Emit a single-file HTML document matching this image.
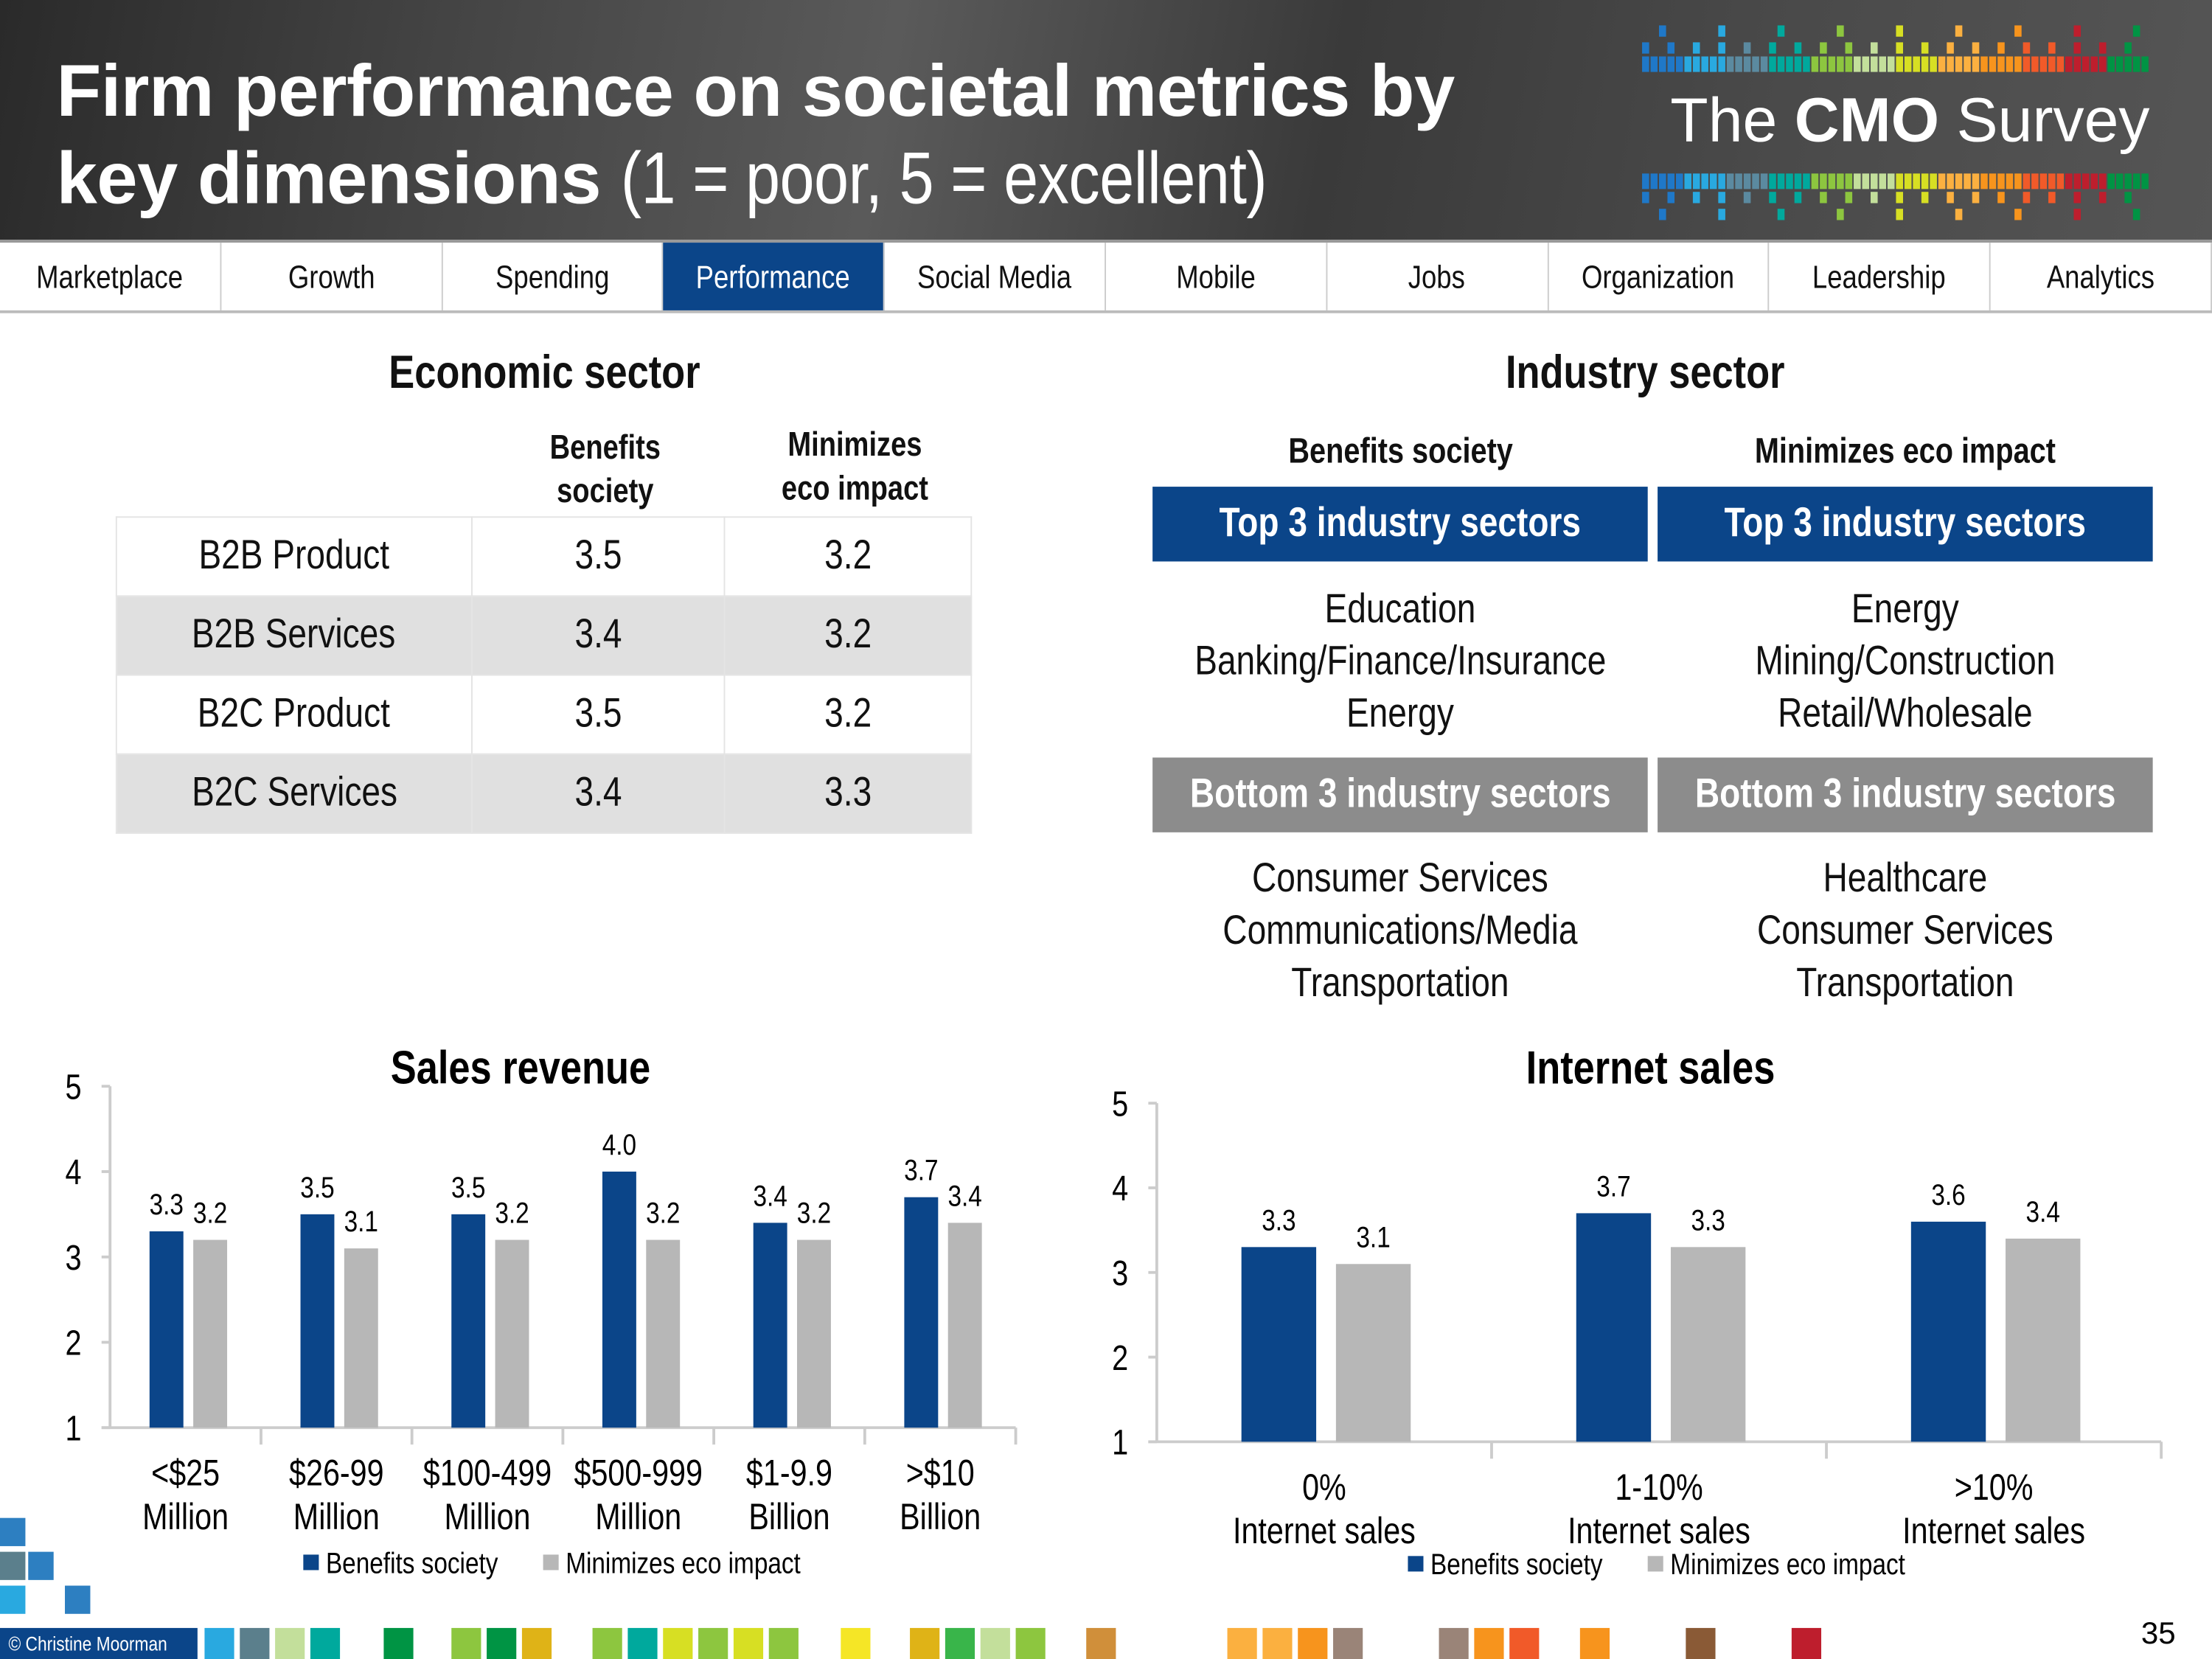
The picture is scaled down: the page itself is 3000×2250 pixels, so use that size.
<!DOCTYPE html>
<html><head><meta charset="utf-8">
<style>
html,body{margin:0;padding:0;width:3000px;height:2250px;overflow:hidden;background:#fff}
#stage{position:absolute;left:0;top:0;width:1568px;height:1176px;transform:scale(1.91327);transform-origin:0 0;font-family:"Liberation Sans Narrow","Liberation Sans",sans-serif;color:#111}
.abs{position:absolute}
.n{display:inline-block;transform:scaleX(.83);white-space:nowrap}
.hdr{left:0;top:0;width:1568px;height:170px;background:linear-gradient(100deg,#2a2a2a 0%,#444 20%,#5a5a5a 40%,#3a3a3a 60%,#4a4a4a 80%,#555 100%)}
.title{left:40px;top:34px;color:#fff;font-family:"Liberation Sans",sans-serif;font-weight:bold;font-size:52px;line-height:62px;letter-spacing:-0.3px;white-space:nowrap}
.title span{font-weight:normal;display:inline-block;transform:scaleX(.85);transform-origin:0 50%}
.nav{left:0;top:170px;width:1568px;height:52px;display:flex;border-top:2px solid #999;border-bottom:2px solid #bbb;box-sizing:border-box}
.tab{flex:1;border-right:1px solid #ccc;display:flex;align-items:center;justify-content:center;font-size:23px;color:#111;overflow:hidden}
.tab.on{background:#0b4589;color:#fff}
.h2{font-weight:bold;font-size:33px;text-align:center}
.tbl{left:82px;top:366px;width:607px;border-collapse:collapse;font-size:29px}
.tbl td{height:55px;border:1px solid #e4e4e4;text-align:center;padding:0}
.tbl tr.g td{background:#e0e0e0}
.box{width:351px;height:53px;color:#fff;font-size:29px;font-weight:bold;display:flex;align-items:center;justify-content:center;white-space:nowrap}
.lst{width:351px;text-align:center;font-size:29px;line-height:37px;transform:scaleX(.83);white-space:nowrap}
</style></head><body>
<div id="stage">
<div class="abs hdr"></div>
<div class="abs title">Firm performance on societal metrics by<br>key dimensions <span>(1 = poor, 5 = excellent)</span></div>
<svg class="abs" style="left:1160px;top:10px" width="400" height="155">
<g id="px"></g>
<text x="24" y="90" fill="#fff" font-family="Liberation Sans" font-size="44">The <tspan font-weight="bold">CMO</tspan> Survey</text>
</svg>
<div class="abs nav">
<div class="tab"><span class="n">Marketplace</span></div>
<div class="tab"><span class="n">Growth</span></div>
<div class="tab"><span class="n">Spending</span></div>
<div class="tab on"><span class="n">Performance</span></div>
<div class="tab"><span class="n">Social Media</span></div>
<div class="tab"><span class="n">Mobile</span></div>
<div class="tab"><span class="n">Jobs</span></div>
<div class="tab"><span class="n">Organization</span></div>
<div class="tab"><span class="n">Leadership</span></div>
<div class="tab"><span class="n">Analytics</span></div>
</div>

<div class="abs h2" style="left:186px;top:245px;width:400px"><span class="n">Economic sector</span></div>
<div class="abs" style="left:340px;top:302px;width:178px;text-align:center;font-weight:bold;font-size:24px;line-height:31px;transform:scaleX(.83)">Benefits<br>society</div>
<div class="abs" style="left:517px;top:300px;width:178px;text-align:center;font-weight:bold;font-size:24px;line-height:31px;transform:scaleX(.83)">Minimizes<br>eco impact</div>
<table class="abs tbl">
<tr><td style="width:251px"><span class="n">B2B Product</span></td><td style="width:178px"><span class="n">3.5</span></td><td><span class="n">3.2</span></td></tr>
<tr class="g"><td><span class="n">B2B Services</span></td><td><span class="n">3.4</span></td><td><span class="n">3.2</span></td></tr>
<tr><td><span class="n">B2C Product</span></td><td><span class="n">3.5</span></td><td><span class="n">3.2</span></td></tr>
<tr class="g"><td><span class="n">B2C Services</span></td><td><span class="n">3.4</span></td><td><span class="n">3.3</span></td></tr>
</table>

<div class="abs h2" style="left:966px;top:245px;width:400px"><span class="n">Industry sector</span></div>
<div class="abs" style="left:817px;top:306px;width:351px;text-align:center;font-weight:bold;font-size:25px"><span class="n">Benefits society</span></div>
<div class="abs" style="left:1175px;top:306px;width:351px;text-align:center;font-weight:bold;font-size:25px"><span class="n">Minimizes eco impact</span></div>
<div class="abs box" style="left:817px;top:345px;background:#0b4589"><span class="n">Top 3 industry sectors</span></div>
<div class="abs box" style="left:1175px;top:345px;background:#0b4589"><span class="n">Top 3 industry sectors</span></div>
<div class="abs lst" style="left:817px;top:414px">Education<br>Banking/Finance/Insurance<br>Energy</div>
<div class="abs lst" style="left:1175px;top:414px">Energy<br>Mining/Construction<br>Retail/Wholesale</div>
<div class="abs box" style="left:817px;top:537px;background:#8c8c8c"><span class="n">Bottom 3 industry sectors</span></div>
<div class="abs box" style="left:1175px;top:537px;background:#8c8c8c"><span class="n">Bottom 3 industry sectors</span></div>
<div class="abs lst" style="left:817px;top:605px">Consumer Services<br>Communications/Media<br>Transportation</div>
<div class="abs lst" style="left:1175px;top:605px">Healthcare<br>Consumer Services<br>Transportation</div>

<svg id="c1" class="abs" style="left:0;top:730px" width="780" height="400"></svg>
<svg id="c2" class="abs" style="left:780px;top:730px" width="788" height="400"></svg>

<svg class="abs" style="left:0;top:1070px" width="1568" height="106">
<g id="foot"></g>
<rect x="0" y="84" width="140" height="22" fill="#0b4589"/>
<text x="6" y="100" fill="#fff" font-size="14" font-family="Liberation Sans" transform="translate(6,0) scale(.85,1) translate(-6,0)">© Christine Moorman</text>
<text x="1530" y="95" text-anchor="middle" font-size="22" font-family="Liberation Sans">35</text>
</svg>
</div>
<script>
const NS="http://www.w3.org/2000/svg";
function mk(p,t,a){const e=document.createElementNS(NS,t);for(const k in a)e.setAttribute(k,a[k]);p.appendChild(e);return e;}
function txt(p,x,y,s,a){const e=mk(p,'text',Object.assign({x:x,y:y,'font-family':'Liberation Sans',transform:`translate(${x},0) scale(.83,1) translate(${-x},0)`},a));e.textContent=s;return e;}
const pal=["#1f78c8","#29a9e0","#5b8aa0","#00a99d","#8dc63f","#c3df9b","#d7df23","#fbb040","#f7941d","#f15a29","#be1e2d","#009444"];
(function(){const g=document.getElementById('px');
for(let i=0;i<60;i++){const x=4+i*6,c=pal[Math.floor(i/5)%pal.length];
mk(g,'rect',{x:x,y:30,width:5,height:11,fill:c});mk(g,'rect',{x:x,y:113,width:5,height:11,fill:c});
if(i%3==0){mk(g,'rect',{x:x,y:20,width:5,height:8,fill:c});mk(g,'rect',{x:x,y:126,width:5,height:8,fill:c});}
if(i%7==2){mk(g,'rect',{x:x,y:8,width:5,height:8,fill:c});mk(g,'rect',{x:x,y:138,width:5,height:8,fill:c});}}
const f=document.getElementById('foot');
const fc=[["#2d7fc1",0,10],["#5b7f8c",0,34],["#2d7fc1",20,34],["#29a9e0",0,58],["#2d7fc1",46,58]];
fc.forEach(d=>mk(f,'rect',{x:d[1],y:d[2]-4,width:18,height:20,fill:d[0]}));
const fx=[[145,"#29a9e0"],[170,"#5b7f8c"],[195,"#c3df9b"],[220,"#00a99d"],[272,"#009444"],[320,"#8dc63f"],[345,"#009444"],[370,"#dfb317"],[420,"#8dc63f"],[445,"#00a99d"],[470,"#d7df23"],[495,"#8dc63f"],[520,"#d7df23"],[545,"#8dc63f"],[596,"#f5e626"],[645,"#dfb317"],[670,"#39b54a"],[695,"#c3df9b"],[720,"#8dc63f"],[770,"#d08f3a"],[870,"#fbb040"],[895,"#fbb040"],[920,"#f7941d"],[945,"#9a8478"],[1020,"#9a8478"],[1045,"#f7941d"],[1070,"#f15a29"],[1120,"#f7941d"],[1195,"#8a5a36"],[1270,"#be1e2d"]];
fx.forEach(d=>mk(f,'rect',{x:d[0],y:84,width:21,height:22,fill:d[1]}));})();

// Sales revenue data
const salesCats=[["<$25","Million"],["$26-99","Million"],["$100-499","Million"],["$500-999","Million"],["$1-9.9","Billion"],[">$10","Billion"]];
const salesBenefits=[3.3,3.5,3.5,4.0,3.4,3.7];
const salesEco=[3.2,3.1,3.2,3.2,3.2,3.4];
// Internet sales data
const netCats=[["0%","Internet sales"],["1-10%","Internet sales"],[">10%","Internet sales"]];
const netBenefits=[3.3,3.7,3.6];
const netEco=[3.1,3.3,3.4];
const yTicks=[1,2,3,4,5];

function chart(id,title,titleX,cats,b,e,o){
const s=document.getElementById(id);
const y=v=>o.y1-(v-1)*(o.y1-o.y5)/4;
const cw=(o.x1-o.x0)/cats.length;
const t=txt(s,titleX,38,title,{'text-anchor':'middle','font-size':33,'font-weight':'bold'});


mk(s,'line',{x1:o.x0,y1:o.y5,x2:o.x0,y2:o.y1,stroke:'#ccc','stroke-width':2});
mk(s,'line',{x1:o.x0-6,y1:o.y1,x2:o.x1,y2:o.y1,stroke:'#ccc','stroke-width':2});
yTicks.forEach(v=>{mk(s,'line',{x1:o.x0-6,y1:y(v),x2:o.x0,y2:y(v),stroke:'#ccc','stroke-width':2});
const l=txt(s,o.x0-26,y(v)+9,String(v),{'text-anchor':'middle','font-size':25});

});
cats.forEach((c,i)=>{const cx=o.x0+i*cw;
mk(s,'line',{x1:cx+cw,y1:o.y1,x2:cx+cw,y2:o.y1+12,stroke:'#ccc','stroke-width':2});
[[b[i],'#0b4589',o.ob],[e[i],'#b7b7b7',o.og]].forEach((d,k)=>{
const r=mk(s,'rect',{x:cx+d[2],y:y(d[0]),width:o.bw,height:o.y1-y(d[0]),fill:d[1]});


const l=txt(s,cx+d[2]+o.bw/2,y(d[0])-o.lg,d[0].toFixed(1),{'text-anchor':'middle','font-size':21});

});
c.forEach((ln,j)=>{const l=txt(s,cx+cw/2,o.y1+o.cy+j*31,ln,{'text-anchor':'middle','font-size':26});

});});
const lg=mk(s,'g',{});


mk(lg,'rect',{x:o.lx,y:o.ly-13,width:11,height:11,fill:'#0b4589'});
txt(lg,o.lx+16,o.ly,'Benefits society',{'font-size':21});
mk(lg,'rect',{x:o.lx+170,y:o.ly-13,width:11,height:11,fill:'#b7b7b7'});
txt(lg,o.lx+186,o.ly,'Minimizes eco impact',{'font-size':21});
}
chart('c1','Sales revenue',369,salesCats,salesBenefits,salesEco,{x0:78,x1:720,y1:282,y5:40,ob:28,og:59,bw:24,lg:12,cy:41,lx:215,ly:385});
chart('c2','Internet sales',390,netCats,netBenefits,netEco,{x0:40,x1:752,y1:292,y5:52,ob:60,og:127,bw:53,lg:12,cy:41,lx:218,ly:386});
</script>
</body></html>
